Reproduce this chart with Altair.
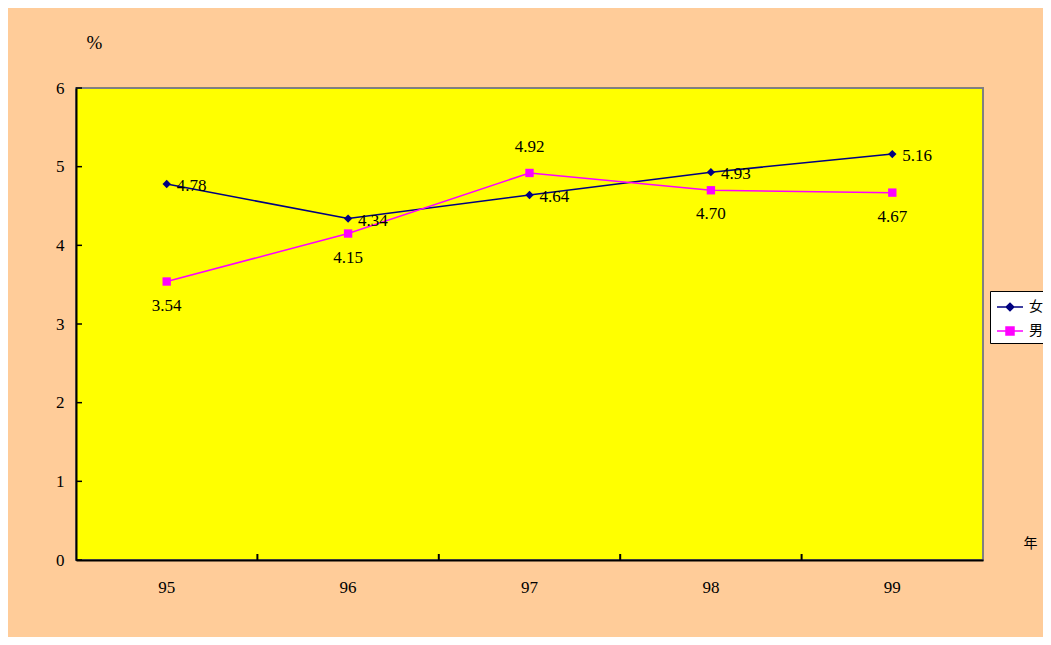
import altair as alt
import pandas as pd

years = ["95", "96", "97", "98", "99"]
female = [4.78, 4.34, 4.64, 4.93, 5.16]
male = [3.54, 4.15, 4.92, 4.70, 4.67]
series_names = ["女", "男"]
y_ticks = [0, 1, 2, 3, 4, 5, 6]

rows = []
for i, yr in enumerate(years):
    rows.append({"year": yr, "series": "女", "value": female[i]})
    rows.append({"year": yr, "series": "男", "value": male[i]})
df = pd.DataFrame(rows)

W, H = 907, 472
SERIF = "Liberation Serif, Times New Roman, serif"
CJK = "Noto Sans CJK JP"
NAVY, MAGENTA = "#000080", "#FF00FF"
colors = [NAVY, MAGENTA]

xscale = alt.Scale(type="band", domain=years, paddingInner=0, paddingOuter=0)
yscale = alt.Scale(domain=[0, 6], nice=False)

x_axis = alt.Axis(
    labelAngle=0, ticks=False, labelPadding=19, labelFont=SERIF, labelFontSize=17,
    labelColor="#000000", domainColor="#000000", domainWidth=2, grid=False,
    title="年", titleX=954, titleY=-17, titleFont=CJK, titleFontSize=14,
    titleFontWeight="normal", titleColor="#000000", titleAlign="center",
    titleBaseline="middle",
)
y_axis = alt.Axis(
    values=y_ticks, format="d", ticks=False, labelPadding=12, labelFont=SERIF,
    labelFontSize=17, labelColor="#000000", domainColor="#000000", domainWidth=2,
    grid=False, title="%", titleAngle=0, titleX=18, titleY=-46, titleFont=SERIF,
    titleFontSize=19, titleFontWeight="normal", titleColor="#000000",
    titleAlign="center", titleBaseline="middle",
)

X = alt.X("year:O", scale=xscale, bandPosition=0.5, axis=x_axis)
Y = alt.Y("value:Q", scale=yscale, axis=y_axis)

fill_scale = alt.Scale(domain=series_names, range=colors)
stroke_scale = alt.Scale(domain=series_names, range=colors)
shape_scale = alt.Scale(
    domain=series_names,
    range=[
        "M-1.3,0H1.3M0,-0.38L0.38,0L0,0.38L-0.38,0Z",
        "M-1.3,0H1.3M-0.4,-0.4H0.4V0.4H-0.4Z",
    ],
)

base = alt.Chart(df)
fem = base.transform_filter(alt.datum.series == "女")
mal = base.transform_filter(alt.datum.series == "男")

# inward tick marks on x axis at category boundaries
xt_df = pd.DataFrame({"year": years[1:]})
x_ticks = alt.Chart(xt_df).mark_rule(color="#000000", strokeWidth=2).encode(
    x=alt.X("year:O", scale=xscale, bandPosition=0, axis=x_axis),
    y=alt.value(H),
    y2=alt.value(H - 6),
)

# inward tick marks on y axis
yt_df = pd.DataFrame({"v": y_ticks})
y_tick_marks = alt.Chart(yt_df).mark_rule(color="#000000", strokeWidth=1.5).encode(
    y=alt.Y("v:Q", scale=yscale, axis=y_axis),
    x=alt.value(0),
    x2=alt.value(6),
)

line_f = fem.mark_line(strokeWidth=1.5, color=NAVY).encode(x=X, y=Y)
line_m = mal.mark_line(strokeWidth=1.5, color=MAGENTA).encode(x=X, y=Y)

diamonds = fem.mark_point(
    shape="diamond", filled=True, size=70, opacity=1, color=NAVY
).encode(x=X, y=Y)
squares = mal.mark_point(
    shape="square", filled=True, size=70, opacity=1, color=MAGENTA
).encode(x=X, y=Y)

text_f = fem.mark_text(
    align="left", baseline="middle", dx=10, dy=2, font=SERIF, fontSize=17, color="#000000"
).encode(x=X, y=Y, text=alt.Text("value:Q", format=".2f"))

text_m_below = mal.transform_filter(alt.datum.year != "97").mark_text(
    align="center", baseline="middle", dy=24, font=SERIF, fontSize=17, color="#000000"
).encode(x=X, y=Y, text=alt.Text("value:Q", format=".2f"))

text_m_above = mal.transform_filter(alt.datum.year == "97").mark_text(
    align="center", baseline="middle", dy=-26, font=SERIF, fontSize=17, color="#000000"
).encode(x=X, y=Y, text=alt.Text("value:Q", format=".2f"))

legend_kw = dict(
    orient="none", legendX=914, legendY=203, title=None, fillColor="#FFFFFF",
    strokeColor="#000000", padding=5, rowPadding=6, symbolSize=400,
    symbolOffset=4, symbolStrokeWidth=1.5, labelFont=CJK, labelFontSize=14,
    labelColor="#000000", labelOffset=8,
)
legend_layer = base.transform_filter("false").mark_point(filled=True, opacity=1).encode(
    x=X, y=Y,
    fill=alt.Fill("series:N", scale=fill_scale, legend=alt.Legend(**legend_kw)),
    stroke=alt.Stroke("series:N", scale=stroke_scale, legend=alt.Legend(**legend_kw)),
    shape=alt.Shape("series:N", scale=shape_scale, legend=alt.Legend(**legend_kw)),
)

chart = alt.layer(
    x_ticks, y_tick_marks, line_f, line_m, diamonds, squares,
    text_f, text_m_below, text_m_above, legend_layer,
).properties(
    width=W, height=H,
    autosize=alt.AutoSizeParams(type="none"),
    padding={"left": 68, "top": 80, "right": 60, "bottom": 77},
    background="#FFCC99",
).configure_view(
    fill="#FFFF00", stroke="#808080", strokeWidth=2
)

chart.save("out.html", embed_options={"renderer": "svg", "actions": False})
